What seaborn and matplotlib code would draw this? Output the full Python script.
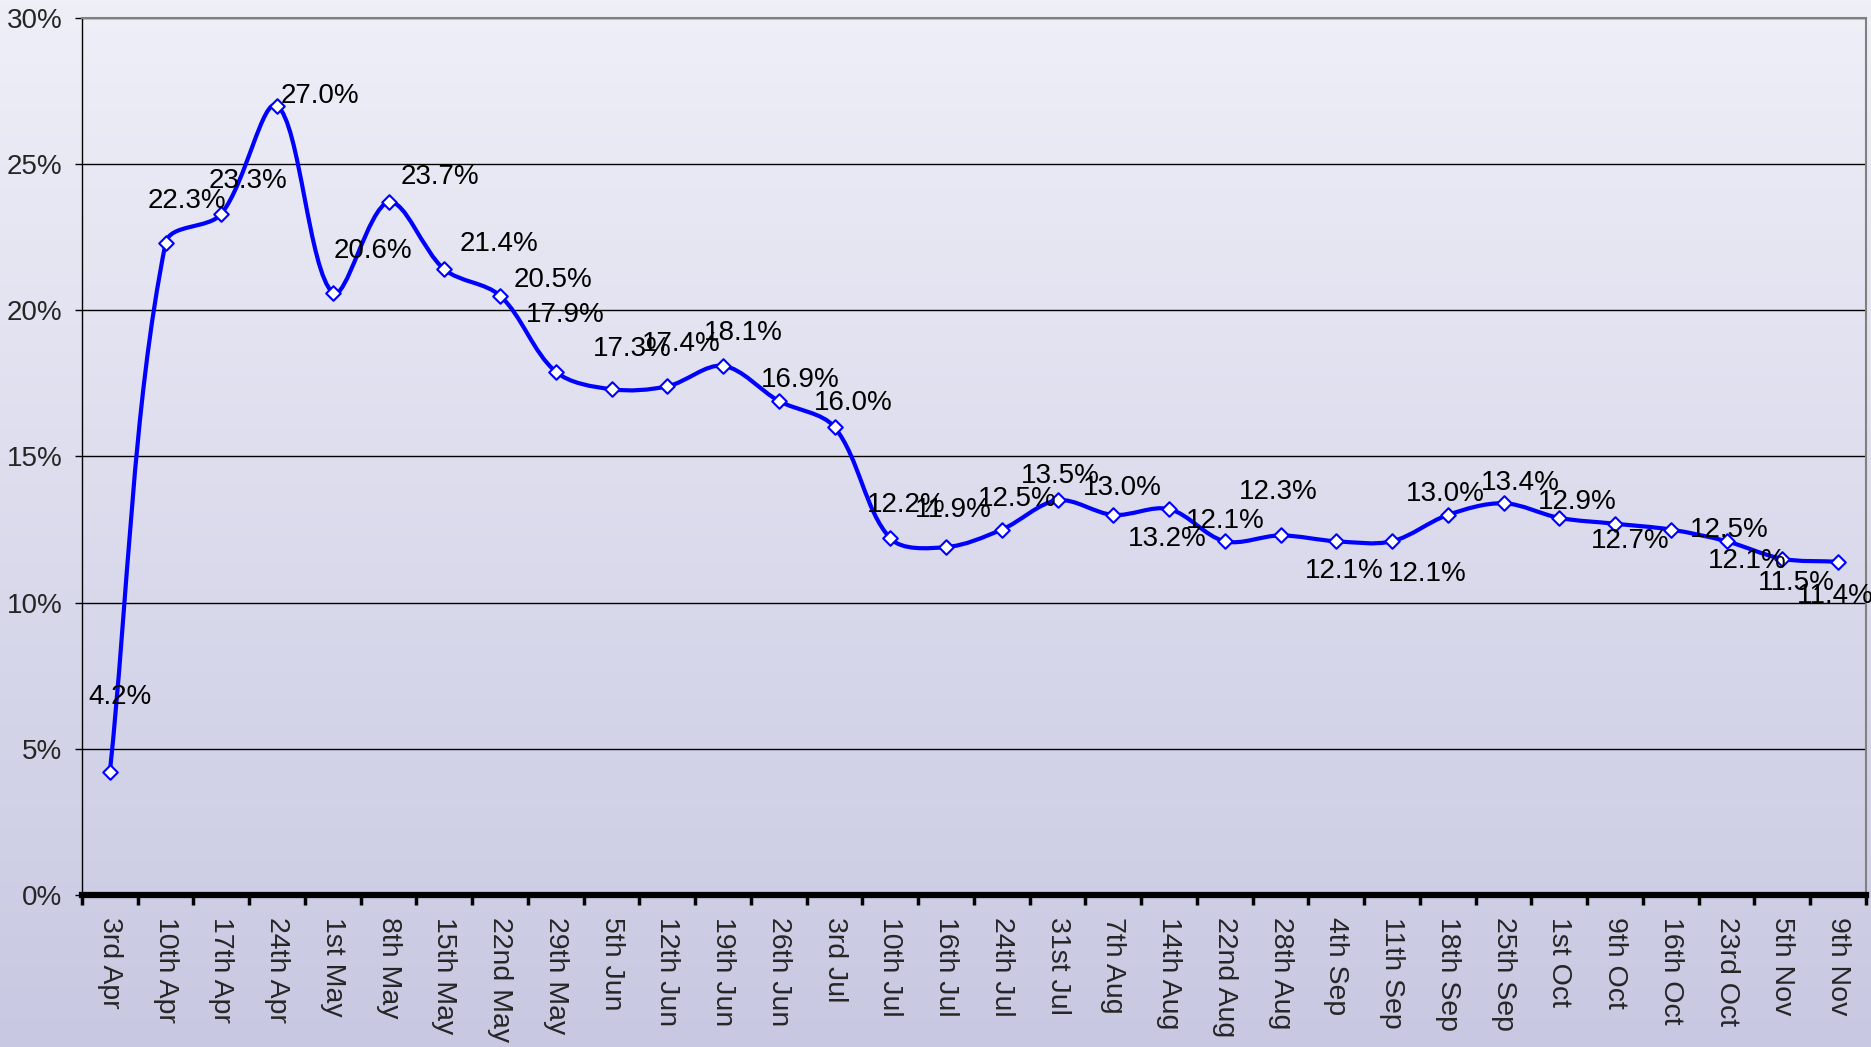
import numpy as np
import matplotlib
matplotlib.use('Agg')
import matplotlib.pyplot as plt
from matplotlib.path import Path
from matplotlib.patches import PathPatch
from matplotlib.ticker import FixedLocator
import seaborn as sns
import pandas as pd

#%% datos
fechas = ['3rd Apr', '10th Apr', '17th Apr', '24th Apr', '1st May', '8th May',
          '15th May', '22nd May', '29th May', '5th Jun', '12th Jun', '19th Jun',
          '26th Jun', '3rd Jul', '10th Jul', '16th Jul', '24th Jul', '31st Jul',
          '7th Aug', '14th Aug', '22nd Aug', '28th Aug', '4th Sep', '11th Sep',
          '18th Sep', '25th Sep', '1st Oct', '9th Oct', '16th Oct', '23rd Oct',
          '5th Nov', '9th Nov']
valores = [4.2, 22.3, 23.3, 27.0, 20.6, 23.7, 21.4, 20.5, 17.9, 17.3, 17.4, 18.1,
           16.9, 16.0, 12.2, 11.9, 12.5, 13.5, 13.0, 13.2, 12.1, 12.3, 12.1, 12.1,
           13.0, 13.4, 12.9, 12.7, 12.5, 12.1, 11.5, 11.4]
y_ticks = [0, 5, 10, 15, 20, 25, 30]

# desplazamiento de cada etiqueta (pixeles: borde izq. del texto, centro vertical)
desp = [(-21, 75), (-18, 42), (-13, 33), (4, 10), (1, 42), (12, 25), (15, 25),
        (14, 16), (-30, 57), (-19, 40), (-25, 42), (-19, 33), (-18, 21), (-21, 24),
        (-23, 33), (-31, 37), (-24, 31), (-37, 24), (-30, 27), (-41, -30), (-39, 20),
        (-42, 43), (-31, -30), (-4, -33), (-42, 21), (-23, 20), (-21, 16), (-24, -17),
        (19, 0), (-19, -20), (-24, -24), (-41, -34)]

df = pd.DataFrame({'fecha': fechas, 'valor': valores})
df['pos'] = np.arange(len(df))

#%% estilo
sns.set_style('white')
plt.rcParams['font.family'] = ['Liberation Sans', 'DejaVu Sans']

fig = plt.figure(figsize=(18.71, 10.47), dpi=100)

# fondo degradado
fondo = fig.add_axes([0, 0, 1, 1], zorder=-1)
grad = np.linspace(0, 1, 256).reshape(-1, 1)
top = np.array([239, 239, 248]) / 255
bot = np.array([200, 200, 226]) / 255
img = top + (bot - top) * grad[:, :, None]
fondo.imshow(img, aspect='auto', extent=[0, 1, 0, 1])
fondo.axis('off')

ax = fig.add_axes([0.0438, 0.1452, 0.9535, 0.8376])
ax.set_facecolor('none')
ax.set_xlim(-0.5, len(fechas) - 0.5)
ax.set_ylim(0, 30)

#%% linea suavizada (bezier ponderada por longitud de tramo, como Excel)
x = df['pos'].to_numpy(dtype=float)
y = df['valor'].to_numpy(dtype=float)
pts = np.column_stack([x, y])
pix = ax.transData.transform(pts)
n = len(pts)


def dist(a, b):
    return np.hypot(*(pix[a] - pix[b]))


verts = [pts[0]]
codes = [Path.MOVETO]
for i in range(n - 1):
    a, b, c, d = max(i - 1, 0), i, i + 1, min(i + 2, n - 1)
    d12 = dist(b, c)
    den1 = dist(a, b) + d12
    den2 = d12 + dist(c, d)
    c1 = pts[b] + (pts[c] - pts[a]) * d12 / (3 * den1)
    c2 = pts[c] - (pts[d] - pts[b]) * d12 / (3 * den2)
    verts += [c1, c2, pts[c]]
    codes += [Path.CURVE4] * 3
ax.add_patch(PathPatch(Path(verts, codes), facecolor='none', edgecolor='#0000FF',
                       lw=3, zorder=3, capstyle='round', joinstyle='round'))

sns.scatterplot(data=df, x='pos', y='valor', marker='D', s=55, color='white',
                edgecolor='#0000FF', linewidth=1.5, zorder=4, ax=ax, legend=False)

#%% etiquetas de datos
for i, v in enumerate(valores):
    ax.annotate(f'{v:.1f}%', (x[i], y[i]), xytext=desp[i], textcoords='offset pixels',
                ha='left', va='center', fontsize=20, color='black', zorder=5)

#%% ejes
ax.set_xticks(x)
ax.set_xticklabels(fechas, rotation=270, ha='center', va='top', fontsize=20.5)
ax.xaxis.set_minor_locator(FixedLocator(np.arange(len(fechas) + 1) - 0.5))
ax.tick_params(axis='x', which='major', length=0, pad=16)
ax.tick_params(axis='x', which='minor', length=7, width=2.5, color='black', bottom=True)
ax.set_yticks(y_ticks)
ax.set_yticklabels([f'{t}%' for t in y_ticks], fontsize=20)
ax.tick_params(axis='y', which='major', length=5, width=1, color='black', left=True, pad=9)
ax.set_xlabel('')
ax.set_ylabel('')

ax.yaxis.grid(True, color='black', lw=1)
ax.set_axisbelow(True)
for lado in ['left', 'right', 'top', 'bottom']:
    ax.spines[lado].set_visible(True)
ax.spines['left'].set_color('black')
ax.spines['left'].set_linewidth(1)
ax.spines['bottom'].set_color('black')
ax.spines['bottom'].set_linewidth(4.5)
ax.spines['top'].set_color('#808080')
ax.spines['top'].set_linewidth(1.5)
ax.spines['right'].set_color('#808080')
ax.spines['right'].set_linewidth(1.5)

fig.savefig('out.png', dpi=100)
